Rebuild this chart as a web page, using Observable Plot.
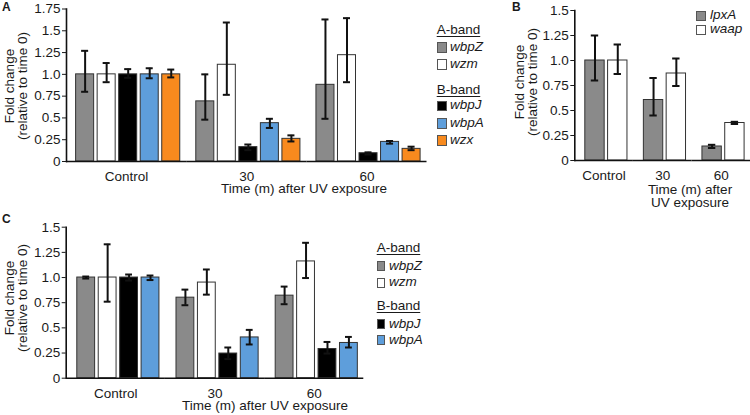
<!DOCTYPE html>
<html><head><meta charset="utf-8">
<script src="https://cdn.jsdelivr.net/npm/d3@7"></script>
<script src="https://cdn.jsdelivr.net/npm/@observablehq/plot@0.6"></script>
<style>
html,body{margin:0;padding:0;background:#fff}
#fig{position:relative;width:750px;height:415px;overflow:hidden;font-family:"Liberation Sans",Arial,sans-serif;color:#1a1a1a}
.t{position:absolute;white-space:nowrap;line-height:0.8}
.sw{position:absolute;box-sizing:border-box;border:1px solid #555}
.yl{position:absolute;width:170px;height:26px;line-height:13px;font-size:13.5px;text-align:center;transform:rotate(-90deg);white-space:nowrap}
</style></head><body><div id="fig"></div>
<script>
// ---------- data ----------
const times = ["Control", "30", "60"];

const genesA = ["wbpZ", "wzm", "wbpJ", "wbpA", "wzx"];
const colorsA = ["#8a8a8a", "#ffffff", "#000000", "#5e9edb", "#f88a1e"];
const meanA = [[1.00, 1.00, 1.00, 1.00, 1.00], [0.69, 1.11, 0.165, 0.44, 0.26], [0.88, 1.22, 0.095, 0.225, 0.145]];
const lowA  = [[0.80, 0.91, 0.96, 0.955, 0.965], [0.48, 0.765, 0.13, 0.385, 0.23], [0.49, 0.91, 0.08, 0.205, 0.13]];
const highA = [[1.27, 1.13, 1.06, 1.07, 1.055], [1.00, 1.595, 0.195, 0.49, 0.30], [1.63, 1.645, 0.105, 0.235, 0.17]];

const genesB = ["lpxA", "waap"];
const colorsB = ["#8a8a8a", "#ffffff"];
const meanB = [[1.00, 1.00], [0.605, 0.87], [0.14, 0.375]];
const lowB  = [[0.80, 0.865], [0.45, 0.745], [0.125, 0.365]];
const highB = [[1.25, 1.16], [0.825, 1.02], [0.157, 0.387]];

const genesC = ["wbpZ", "wzm", "wbpJ", "wbpA"];
const colorsC = ["#8a8a8a", "#ffffff", "#000000", "#5e9edb"];
const meanC = [[1.00, 1.00, 1.00, 1.00], [0.80, 0.95, 0.245, 0.405], [0.82, 1.16, 0.29, 0.35]];
const lowC  = [[0.99, 0.76, 0.97, 0.975], [0.725, 0.83, 0.19, 0.335], [0.735, 0.995, 0.245, 0.305]];
const highC = [[1.01, 1.33, 1.03, 1.02], [0.88, 1.08, 0.305, 0.48], [0.91, 1.345, 0.36, 0.41]];

const yTicksA = [0, 0.25, 0.5, 0.75, 1.0, 1.25, 1.5, 1.75];
const yLabelsA = ["0", "0.25", "0.5", "0.75", "1.0", "1.25", "1.5", "1.75"];
const yTicksBC = [0, 0.25, 0.5, 0.75, 1.0, 1.25, 1.5];
const yLabelsBC = ["0", "0.25", "0.5", "0.75", "1.0", "1.25", "1.5"];

const yTitle = ["Fold change", "(relative to time 0)"];
const xTitle = "Time (m) after UV exposure";
const xTitleB = ["Time (m) after", "UV exposure"];
const groupA = "A-band", groupB = "B-band";

// ---------- helpers ----------
function rows(genes, mean, low, high) {
  return times.flatMap((t, i) => genes.map((g, j) => ({time: t, gene: g, mean: mean[i][j], low: low[i][j], high: high[i][j]})));
}
const FONT = '"Liberation Sans", Arial, sans-serif';
function panel(o) {
  const data = rows(o.genes, o.mean, o.low, o.high);
  const err = {fx: "time", x: "gene", stroke: "#111", strokeWidth: 2};
  return Plot.plot({
    width: o.width, height: o.height,
    marginLeft: o.mL, marginRight: o.mR, marginTop: o.mT, marginBottom: o.mB,
    style: {fontFamily: FONT, fontSize: "13.5px", color: "#1a1a1a", background: "transparent", overflow: "visible"},
    fx: {domain: times, padding: 0, round: false, label: null},
    x: {domain: o.genes, paddingInner: o.pi, paddingOuter: o.po, align: o.align, round: false, axis: null},
    y: {domain: [0, o.yMax]},
    color: {domain: o.genes, range: o.colors},
    marks: [
      Plot.barY(data, {fx: "time", x: "gene", y: "mean", fill: "gene", stroke: "#333", strokeWidth: 1}),
      Plot.ruleX(data, {...err, y1: "low", y2: "high"}),
      Plot.tickY(data, {...err, y: "low", insetLeft: o.cap, insetRight: o.cap}),
      Plot.tickY(data, {...err, y: "high", insetLeft: o.cap, insetRight: o.cap}),
      Plot.ruleY([0], {stroke: "#111", strokeWidth: 1.6}),
      Plot.axisY({ticks: o.yTicks, tickFormat: d => o.yLabels[o.yTicks.indexOf(d)], tickSize: 4, tickPadding: 2, label: null}),
      Plot.frame({anchor: "left", facetAnchor: "left", stroke: "#111", strokeWidth: 1.6}),
      Plot.axisFx({anchor: "bottom", tickSize: 0, tickPadding: o.tp, label: null})
    ]
  });
}
const fig = document.getElementById("fig");
function place(el, left, top) { el.style.position = "absolute"; el.style.left = left + "px"; el.style.top = top + "px"; fig.appendChild(el); }
function txt(s, x, base, opt = {}) {
  const size = opt.size || 13.5;
  const d = document.createElement("div"); d.className = "t"; d.textContent = s;
  d.style.fontSize = size + "px"; d.style.left = x + "px"; d.style.top = (base - 0.7465 * size) + "px";
  if (opt.italic) d.style.fontStyle = "italic";
  if (opt.bold) d.style.fontWeight = "bold";
  if (opt.anchor === "middle") d.style.transform = "translateX(-50%)";
  if (opt.underline) { d.style.textDecoration = "underline"; d.style.textUnderlineOffset = "2px"; d.style.textDecorationThickness = "1px"; }
  fig.appendChild(d);
}
function swatch(x, y, w, h, color) {
  const d = document.createElement("div"); d.className = "sw";
  d.style.left = x + "px"; d.style.top = y + "px"; d.style.width = w + "px"; d.style.height = h + "px"; d.style.background = color;
  fig.appendChild(d);
}
function ylab(xc, yc) {
  const d = document.createElement("div"); d.className = "yl";
  d.style.left = (xc - 85) + "px"; d.style.top = (yc - 13) + "px";
  yTitle.forEach(s => { const l = document.createElement("div"); l.textContent = s; d.appendChild(l); });
  fig.appendChild(d);
}
function legend(genes, colors, x, ys, sw, tx) {
  genes.forEach((g, i) => { swatch(x, ys[i], sw[0], sw[1], colors[i]); txt(g, tx, ys[i] + 9.8, {italic: true}); });
}

// ---------- panel A ----------
place(panel({genes: genesA, colors: colorsA, mean: meanA, low: lowA, high: highA, yMax: 1.75, yTicks: yTicksA, yLabels: yLabelsA,
  width: 440, height: 200, mL: 66, mR: 13.5, mT: 8.5, mB: 39, pi: 0.163, po: 0.372, align: 0.6, cap: 5.5, tp: 9.5}), 0, 0);
// ---------- panel B ----------
place(panel({genes: genesB, colors: colorsB, mean: meanB, low: lowB, high: highB, yMax: 1.5, yTicks: yTicksBC, yLabels: yLabelsBC,
  width: 270, height: 200, mL: 94.3, mR: 0, mT: 10, mB: 40, pi: 0.15, po: 0.36, align: 0.64, cap: 6, tp: 10}), 480, 0);
// ---------- panel C ----------
place(panel({genes: genesC, colors: colorsC, mean: meanC, low: lowC, high: highC, yMax: 1.5, yTicks: yTicksBC, yLabels: yLabelsBC,
  width: 380, height: 200, mL: 65.7, mR: 16.7, mT: 16.7, mB: 32.3, pi: 0.168, po: 0.398, align: 0.65, cap: 5.5, tp: 10.5}), 0, 210);

// ---------- titles / labels ----------
txt("A", 2, 12, {bold: true, size: 12});
txt("B", 512, 12, {bold: true, size: 12});
txt("C", 2, 224, {bold: true, size: 12});
ylab(16.4, 86);
ylab(525.5, 82);
ylab(16.4, 298);
txt(xTitle, 304, 194.5, {anchor: "middle"});
txt(xTitleB[0], 690, 195.5, {anchor: "middle"});
txt(xTitleB[1], 690, 208, {anchor: "middle"});
txt(xTitle, 265, 411.5, {anchor: "middle"});

// ---------- legends ----------
txt(groupA, 436.7, 34.7, {underline: true});
legend(genesA.slice(0, 2), colorsA.slice(0, 2), 436.7, [42.3, 59.3], [10.7, 10.5], 450);
txt(groupB, 436.7, 94.7, {underline: true});
legend(genesA.slice(2), colorsA.slice(2), 436.7, [100.7, 118.3, 135], [10.7, 10.5], 450);

legend(genesB, colorsB, 696, [10.5, 24.5], [10, 10.5], 710);

txt(groupA, 376.7, 253, {underline: true});
legend(genesC.slice(0, 2), colorsC.slice(0, 2), 376.7, [261, 277.7], [8.5, 10], 389);
txt(groupB, 376.7, 311.4, {underline: true});
legend(genesC.slice(2), colorsC.slice(2), 376.7, [319, 335], [8.5, 10], 389);
</script></body></html>
